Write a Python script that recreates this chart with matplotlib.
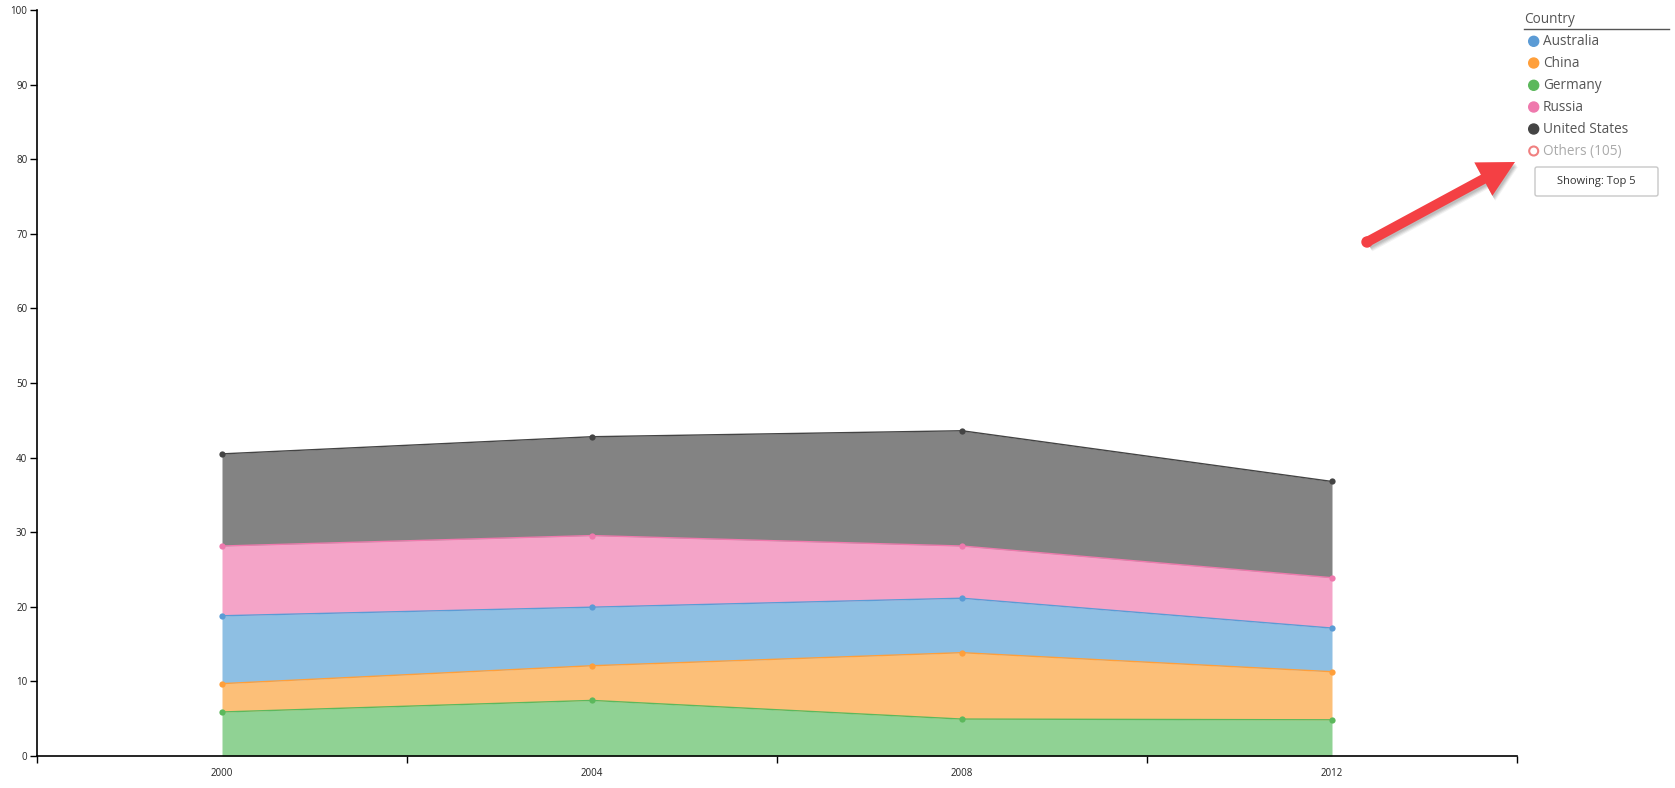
import matplotlib
matplotlib.use("Agg")
import matplotlib.pyplot as plt
from matplotlib.patches import FancyArrow, FancyBboxPatch, Circle
import numpy as np

plt.rcParams['font.family'] = ['Open Sans', 'DejaVu Sans']

years = [2000, 2004, 2008, 2012]
countries = ["Germany", "China", "Australia", "Russia", "United States"]  # stack order bottom->top
germany = [5.9, 7.45, 4.95, 4.85]
china = [3.8, 4.65, 8.9, 6.45]
australia = [9.1, 7.85, 7.3, 5.85]
russia = [9.35, 9.6, 7.0, 6.75]
united_states = [12.35, 13.25, 15.45, 12.9]
series = [germany, china, australia, russia, united_states]

legend_names = ["Australia", "China", "Germany", "Russia", "United States"]
others_label = "Others (105)"
button_label = "Showing: Top 5"
legend_title = "Country"

line_colors = {"Australia": "#5b9bd5", "China": "#ff9f3a", "Germany": "#5cb85c",
               "Russia": "#ef79ad", "United States": "#444444"}
fill_colors = {"Australia": "#8ebfe3", "China": "#fcbf78", "Germany": "#90d294",
               "Russia": "#f4a4c8", "United States": "#838383"}

W, H = 1675, 788
fig = plt.figure(figsize=(W / 100, H / 100), dpi=100)
ax = fig.add_axes([37 / W, 32 / H, (1517 - 37) / W, (756 - 10) / H])

x = np.array(years, dtype=float)
base = np.zeros(len(years))
for name, vals in zip(countries, series):
    top = base + np.array(vals)
    ax.fill_between(x, base, top, color=fill_colors[name], linewidth=0, zorder=2)
    ax.plot(x, top, color=line_colors[name], linewidth=1, zorder=3)
    ax.plot(x, top, 'o', color=line_colors[name], markersize=4.5, markeredgewidth=0, zorder=4)
    base = top

ax.set_xlim(1998, 2014)
ax.set_ylim(0, 100)
ax.set_yticks(np.arange(0, 101, 10))
ax.set_xticks([1998, 2002, 2006, 2010, 2014])
ax.set_xticklabels([])
ax.set_xticks(years, minor=True)
ax.set_xticklabels([str(y) for y in years], minor=True)
ax.tick_params(axis='x', which='minor', length=0, labelsize=7, pad=9, colors='#222222')
ax.tick_params(axis='x', which='major', length=5, width=1, color='black')
ax.tick_params(axis='y', length=5, width=1, labelsize=7, colors='#222222', pad=2)
ax.tick_params(axis='y', color='black')
for s in ['top', 'right']:
    ax.spines[s].set_visible(False)
for s in ['left', 'bottom']:
    ax.spines[s].set_color('black')
    ax.spines[s].set_linewidth(1.2)

# overlay in pixel coordinates for legend, button and arrow
ov = fig.add_axes([0, 0, 1, 1])
ov.set_xlim(0, W)
ov.set_ylim(H, 0)
ov.axis('off')
ov.patch.set_alpha(0)

ov.text(1524, 19, legend_title, fontsize=9.8, color='#555555', va='center', ha='left')
ov.plot([1524, 1669], [28.5, 28.5], color='#555555', linewidth=1)
ys = [41.3, 63, 85.3, 107, 129]
for yy, name in zip(ys, legend_names):
    ov.add_patch(Circle((1533.7, yy), 5, color=line_colors[name], zorder=5))
    ov.text(1543, yy, name, fontsize=9.8, color='#555555', va='center', ha='left')
ov.add_patch(Circle((1533.7, 151), 4.5, facecolor='white', edgecolor='#f08080', linewidth=1.5, zorder=5))
ov.text(1543, 151, others_label, fontsize=9.8, color='#aaaaaa', va='center', ha='left')

ov.add_patch(FancyBboxPatch((1535, 167), 123, 29, boxstyle="round,pad=0,rounding_size=2",
                            facecolor='white', edgecolor='#c8c8c8', linewidth=1))
ov.text(1596.5, 181.5, button_label, fontsize=8, color='#333333', va='center', ha='center')

# arrow with soft shadow
x0, y0, x1, y1 = 1367, 242, 1515, 162
for off, a in [(5, 0.05), (4, 0.07), (3, 0.08), (2, 0.08)]:
    ov.add_patch(FancyArrow(x0 + off * 0.6, y0 + off, x1 - x0, y1 - y0, width=10, head_width=38,
                            head_length=36, length_includes_head=True, color='black', alpha=a,
                            linewidth=0, zorder=6))
ov.add_patch(FancyArrow(x0, y0, x1 - x0, y1 - y0, width=10, head_width=38, head_length=36,
                        length_includes_head=True, color='#f44044', linewidth=0, zorder=7))
ov.add_patch(Circle((x0, y0), 5, color='#f44044', zorder=7))

fig.savefig("out.png", dpi=100)
